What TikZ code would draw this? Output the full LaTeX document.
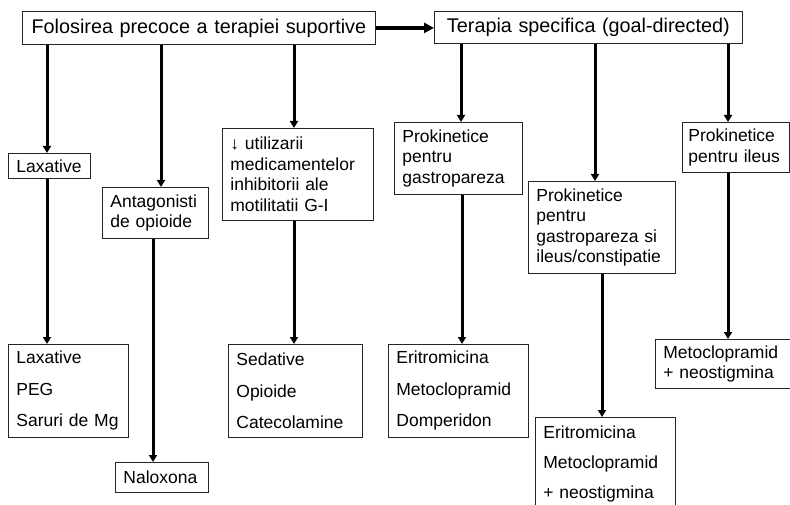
\documentclass[tikz,border=0pt]{standalone}
\usepackage{fontspec}
\setmainfont{Liberation Sans}
\usetikzlibrary{arrows.meta}
\begin{document}
\begin{tikzpicture}[x=1pt,y=-1pt,
  box/.style={draw=black!85, line width=0.8pt, anchor=north west, inner xsep=8pt, inner ysep=0pt, align=left, font=\fontsize{17.5}{20.5}\selectfont},
  listbox/.style={box, font=\fontsize{17.5}{31.5}\selectfont},
  topbox/.style={box, align=center, font=\fontsize{19.8}{23}\selectfont},
  conn/.style={line width=3pt, -{Triangle[length=7pt,width=8pt]}},
  bigconn/.style={line width=4pt, -{Triangle[length=10pt,width=10pt]}}]
\useasboundingbox (0,0) rectangle (790,505);
\clip (0,0) rectangle (790,505);
\fill[white] (0,0) rectangle (790,505);
% top row
\node[topbox, text width=337pt, minimum height=33pt] (t1) at (22,11) {Folosirea precoce a terapiei suportive};
\node[topbox, text width=292pt, minimum height=32pt] (t2) at (434,11) {Terapia specifica (goal-directed)};
% second row
\node[box, text width=66pt, minimum height=25pt] (lax) at (8,153) {Laxative};
\node[box, text width=90pt, minimum height=51pt] (ant) at (102,187) {Antagonisti\\de opioide};
\node[box, text width=135pt, minimum height=92pt] (util) at (222,128) {↓ utilizarii\\medicamentelor\\inhibitorii ale\\motilitatii G-I};
\node[box, text width=112pt, minimum height=72pt] (pg) at (394,122) {Prokinetice\\pentru\\gastropareza};
\node[box, text width=131pt, minimum height=92pt] (pgi) at (528,181) {Prokinetice\\pentru\\gastropareza si\\ileus/constipatie};
\node[box, inner xsep=6pt, text width=95pt, minimum height=50pt] (pi) at (682,122) {Prokinetice\\pentru~ileus};
% bottom row
\node[listbox, text width=104pt, minimum height=93pt] (laxl) at (8,344) {Laxative\\PEG\\Saruri de Mg};
\node[box, text width=77pt, minimum height=30pt] (nal) at (115,462) {Naloxona};
\node[listbox, text width=118pt, minimum height=93pt] (sed) at (228,344) {Sedative\\Opioide\\Catecolamine};
\node[listbox, text width=124pt, minimum height=93pt] (er1) at (388,344) {Eritromicina\\Metoclopramid\\Domperidon};
\node[listbox, font=\fontsize{17.5}{30}\selectfont, text width=124pt, minimum height=94pt] (er2) at (535,417) {Eritromicina\\Metoclopramid\\+ neostigmina};
\node[box, text width=134pt, minimum height=49pt] (met) at (655,339) {Metoclopramid\\+ neostigmina};
% connector x positions
\coordinate (c1) at (47,0);
\coordinate (c2) at (161,0);
\coordinate (c3) at (294,0);
\coordinate (c4) at (461,0);
\coordinate (c5) at (595,0);
\coordinate (c6) at (728,0);
\coordinate (d2) at (153,0);
\coordinate (d4) at (462,0);
\coordinate (d5) at (602,0);
% connectors
\draw[bigconn] (t1.east) -- (t1.east -| t2.west);
\draw[conn] (c1 |- t1.south) -- (c1 |- lax.north);
\draw[conn] (c2 |- t1.south) -- (c2 |- ant.north);
\draw[conn] (c3 |- t1.south) -- (c3 |- util.north);
\draw[conn] (c4 |- t2.south) -- (c4 |- pg.north);
\draw[conn] (c5 |- t2.south) -- (c5 |- pgi.north);
\draw[conn] (c6 |- t2.south) -- (c6 |- pi.north);
\draw[conn] (c1 |- lax.south) -- (c1 |- laxl.north);
\draw[conn] (d2 |- ant.south) -- (d2 |- nal.north);
\draw[conn] (c3 |- util.south) -- (c3 |- sed.north);
\draw[conn] (d4 |- pg.south) -- (d4 |- er1.north);
\draw[conn] (d5 |- pgi.south) -- (d5 |- er2.north);
\draw[conn] (c6 |- pi.south) -- (c6 |- met.north);
\end{tikzpicture}
\end{document}
